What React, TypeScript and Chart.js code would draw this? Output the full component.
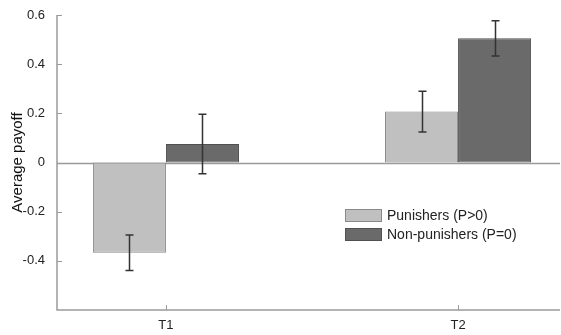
import { useEffect, useRef } from 'react';
import { Chart, registerables } from 'chart.js';

Chart.register(...registerables);

// Treatments on the x axis and the two groups compared in each
const categories = ['T1', 'T2'];
const seriesNames = ['Punishers (P>0)', 'Non-punishers (P=0)'];

// Average payoff per treatment, with standard errors
const punishers = [-0.367, 0.207];
const nonPunishers = [0.075, 0.505];
const punishersErr = [0.072, 0.083];
const nonPunishersErr = [0.121, 0.072];

// Labelled y ticks
const yTicks = [-0.4, -0.2, 0, 0.2, 0.4, 0.6];

const FONT = '"Liberation Sans", Arial, sans-serif';
const AXIS_COLOR = '#9a9a9a';
const TEXT_COLOR = '#222';
const FILLS = ['#c0c0c0', '#6a6a6a'];
const BORDERS = ['#8a8a8a', '#505050'];

const errorsBySeries = [punishersErr, nonPunishersErr];

const decorPlugin = {
  id: 'decor',
  beforeDatasetsDraw(chart: any) {
    const { ctx, chartArea, scales } = chart;
    const y0 = Math.round(scales.y.getPixelForValue(0)) + 0.5;
    ctx.save();
    ctx.strokeStyle = AXIS_COLOR;
    ctx.lineWidth = 1.5;
    ctx.beginPath();
    ctx.moveTo(chartArea.left, y0);
    ctx.lineTo(chartArea.right, y0);
    ctx.stroke();
    ctx.restore();
  },
  afterDatasetsDraw(chart: any) {
    const { ctx, scales } = chart;
    ctx.save();
    ctx.strokeStyle = '#333';
    ctx.lineWidth = 1.5;
    chart.data.datasets.forEach((ds: any, di: number) => {
      const meta = chart.getDatasetMeta(di);
      const errs = errorsBySeries[di];
      meta.data.forEach((bar: any, i: number) => {
        const v = ds.data[i].y;
        const e = errs[i];
        const x = Math.round(bar.x) + 0.5;
        const yt = scales.y.getPixelForValue(v + e);
        const yb = scales.y.getPixelForValue(v - e);
        const cap = 4;
        ctx.beginPath();
        ctx.moveTo(x, yt);
        ctx.lineTo(x, yb);
        ctx.moveTo(x - cap, yt);
        ctx.lineTo(x + cap, yt);
        ctx.moveTo(x - cap, yb);
        ctx.lineTo(x + cap, yb);
        ctx.stroke();
      });
    });
    ctx.restore();
  },
  afterDraw(chart: any) {
    const { ctx, chartArea, scales } = chart;
    const { left, right, top, bottom } = chartArea;
    ctx.save();
    // axis lines
    ctx.strokeStyle = AXIS_COLOR;
    ctx.lineWidth = 1.5;
    ctx.beginPath();
    ctx.moveTo(left, top);
    ctx.lineTo(left, bottom);
    ctx.lineTo(right, bottom);
    ctx.stroke();
    // inward tick marks
    ctx.lineWidth = 1;
    ctx.beginPath();
    yTicks.forEach((t) => {
      const py = Math.round(scales.y.getPixelForValue(t)) + 0.5;
      ctx.moveTo(left, py);
      ctx.lineTo(left + 5, py);
    });
    categories.forEach((_, i) => {
      const px = Math.round(scales.x.getPixelForValue(i + 1)) + 0.5;
      ctx.moveTo(px, bottom);
      ctx.lineTo(px, bottom - 5);
    });
    ctx.stroke();
    // legend
    const lx = 345;
    const ly = 209;
    ctx.font = `14px ${FONT}`;
    ctx.textBaseline = 'middle';
    ctx.textAlign = 'left';
    seriesNames.forEach((name, i) => {
      const by = ly + i * 19;
      ctx.fillStyle = FILLS[i];
      ctx.fillRect(lx, by, 37, 13);
      ctx.strokeStyle = BORDERS[i];
      ctx.strokeRect(lx + 0.5, by + 0.5, 36, 12);
      ctx.fillStyle = TEXT_COLOR;
      ctx.fillText(name, lx + 42, by + 7);
    });
    ctx.restore();
  },
};

export default function App() {
  const canvasRef = useRef<HTMLCanvasElement | null>(null);

  useEffect(() => {
    document.body.style.margin = '0';
    const canvas = canvasRef.current;
    if (!canvas) return;

    const series = [punishers, nonPunishers];
    const chart = new Chart(canvas, {
      type: 'bar',
      data: {
        datasets: series.map((vals, si) => ({
          label: seriesNames[si],
          data: vals.map((v, i) => ({ x: i + 1, y: v })),
          backgroundColor: FILLS[si],
          borderColor: BORDERS[si],
          borderWidth: 1,
          borderSkipped: false,
          categoryPercentage: 0.5,
          barPercentage: 1,
        })),
      },
      options: {
        responsive: false,
        animation: false,
        layout: { padding: { top: 15, right: 1, left: 0, bottom: 0 } },
        plugins: {
          legend: { display: false },
          tooltip: { enabled: false },
        },
        scales: {
          x: {
            type: 'linear',
            min: 0.627,
            max: 2.349,
            offset: false,
            grid: { display: false, offset: false },
            border: { display: false },
            afterBuildTicks: (scale: any) => {
              scale.ticks = categories.map((_, i) => ({ value: i + 1 }));
            },
            afterFit: (scale: any) => {
              scale.height = 25;
            },
            ticks: {
              autoSkip: false,
              maxRotation: 0,
              padding: 0,
              color: TEXT_COLOR,
              font: { family: FONT, size: 13 },
              callback: (v: any) => categories[Math.round(Number(v)) - 1] ?? '',
            },
          },
          y: {
            min: -0.6,
            max: 0.6,
            grid: { display: false },
            border: { display: false },
            afterBuildTicks: (scale: any) => {
              scale.ticks = yTicks.map((t) => ({ value: t }));
            },
            afterFit: (scale: any) => {
              scale.width = 57;
            },
            ticks: {
              padding: 4,
              color: TEXT_COLOR,
              font: { family: FONT, size: 13 },
              callback: (v: any) => String(Math.round(Number(v) * 10) / 10),
            },
            title: {
              display: true,
              text: 'Average payoff',
              color: '#111',
              font: { family: FONT, size: 15 },
              padding: { top: 9, bottom: 0 },
            },
          },
        },
      },
      plugins: [decorPlugin],
    });

    return () => chart.destroy();
  }, []);

  return <canvas ref={canvasRef} width={561} height={335} style={{ display: 'block' }} />;
}
